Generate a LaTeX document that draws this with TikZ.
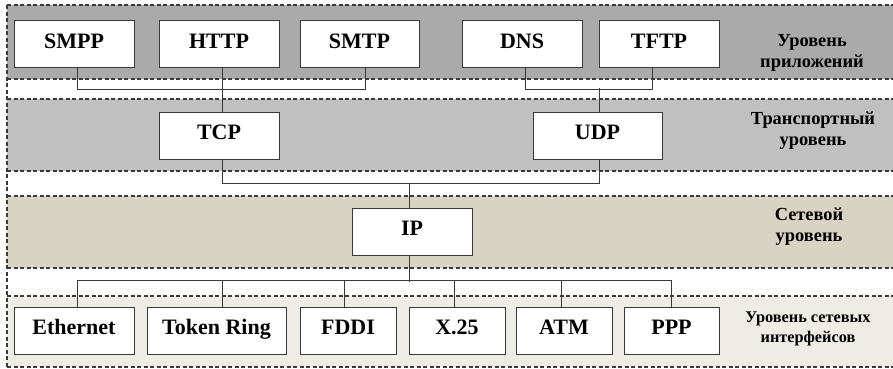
\documentclass[tikz,border=0pt]{standalone}
\usepackage{fontspec}
\setmainfont{Liberation Serif}
\definecolor{appc}{HTML}{AAAAAA}
\definecolor{trc}{HTML}{C0C0C0}
\definecolor{netc}{HTML}{D8D3C3}
\definecolor{ifc}{HTML}{EEEDE5}
\definecolor{linec}{HTML}{3A3A3A}
\begin{document}
\begin{tikzpicture}[x=1pt,y=-1pt,
  bandline/.style={draw=linec,line width=1.2pt,dash pattern=on 4pt off 2.5pt},
  box/.style={draw=linec,line width=1pt,fill=white,minimum height=47pt,inner sep=0pt,
    text height=15pt,text depth=6.2pt,
    font=\fontsize{22}{24}\selectfont\bfseries},
  conn/.style={draw=linec,line width=1pt},
  lvl/.style={align=center,font=\fontsize{18.4}{21}\selectfont\bfseries,text=black},
  lvls/.style={align=center,font=\fontsize{16.3}{19.5}\selectfont\bfseries,text=black}]
\useasboundingbox (0,0) rectangle (893,368);
\fill[white] (0,0) rectangle (893,368);
% bands
\fill[appc] (7,5) rectangle (893,79);
\fill[trc] (7,99) rectangle (893,171);
\fill[netc] (7,196) rectangle (893,268);
\fill[ifc] (7,296) rectangle (893,367);
\foreach \yy in {5,79,99,171,196,268,296,367}
  \draw[bandline] (7,\yy) -- (893,\yy);
\draw[bandline] (7,5) -- (7,367);
% application layer
\node[box,minimum width=120pt] (smpp) at (74,44) {SMPP};
\node[box,minimum width=120pt] (http) at (219,44) {HTTP};
\node[box,minimum width=119pt] (smtp) at (359.5,44) {SMTP};
\node[box,minimum width=120pt] (dns) at (522,44) {DNS};
\node[box,minimum width=120pt] (tftp) at (659,44) {TFTP};
\node[lvl] (lapp) at (812,52.5) {Уровень\\приложений};
% transport layer
\node[box,minimum width=120pt] (tcp) at (219,135.5) {TCP};
\node[box,minimum width=129pt] (udp) at (597.5,135.5) {UDP};
\node[lvl] (ltr) at (813,130.5) {Транспортный\\уровень};
% network layer
\node[box,minimum width=120pt] (ip) at (412,231.5) {IP};
\node[lvl] (lnet) at (809,227) {Сетевой\\уровень};
% interface layer
\node[box,minimum width=120pt] (eth) at (74,330.5) {Ethernet};
\node[box,minimum width=139pt] (tr) at (216.5,330.5) {Token Ring};
\node[box,minimum width=96pt] (fddi) at (348,330.5) {FDDI};
\node[box,minimum width=96pt] (x25) at (457,330.5) {X.25};
\node[box,minimum width=96pt] (atm) at (564,330.5) {ATM};
\node[box,minimum width=95pt] (ppp) at (671.5,330.5) {PPP};
\node[lvls] (lif) at (808,329) {Уровень сетевых\\интерфейсов};
% connectors
\draw[conn] ([xshift=3pt]smpp.south) -- ++(0,21) -| ([xshift=6pt]smtp.south);
\draw[conn] ([xshift=3pt]http.south) -- ([xshift=3pt]tcp.north);
\draw[conn] ([xshift=3pt]dns.south) -- ++(0,21) -| ([xshift=-7pt]tftp.south);
\draw[conn] ([xshift=1.5pt]udp.north) -- ++(0,-24);
\draw[conn] ([xshift=3pt]tcp.south) -- ++(0,24) -| ([xshift=1.5pt]udp.south);
\draw[conn] ([xshift=-3pt]ip.north) -- ++(0,-25);
\draw[conn] ([xshift=-3pt]ip.south) -- ++(0,26);
\draw[conn] ([xshift=3pt]eth.north) -- ++(0,-26) -| ([xshift=-0.5pt]ppp.north);
\draw[conn] ([xshift=6pt]tr.north) -- ++(0,-26);
\draw[conn] ([xshift=-4pt]fddi.north) -- ++(0,-26);
\draw[conn] ([xshift=-3pt]x25.north) -- ++(0,-26);
\draw[conn] ([xshift=-3pt]atm.north) -- ++(0,-26);
\end{tikzpicture}
\end{document}
